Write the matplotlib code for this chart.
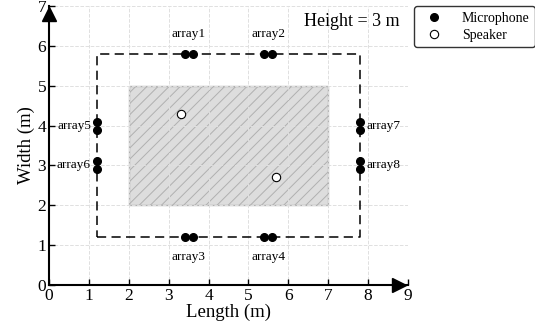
import matplotlib.pyplot as plt
from matplotlib.patches import Rectangle

plt.rcParams['font.family'] = ['Liberation Serif', 'DejaVu Serif']
plt.rcParams['hatch.linewidth'] = 0.7

# microphone arrays: name, x positions, y positions
array_names = ['array1', 'array2', 'array3', 'array4', 'array5', 'array6', 'array7', 'array8']
mic_x = [[3.4, 3.6], [5.4, 5.6], [3.4, 3.6], [5.4, 5.6], [1.2, 1.2], [1.2, 1.2], [7.8, 7.8], [7.8, 7.8]]
mic_y = [[5.8, 5.8], [5.8, 5.8], [1.2, 1.2], [1.2, 1.2], [4.1, 3.9], [3.1, 2.9], [4.1, 3.9], [3.1, 2.9]]
speaker_x = [3.3, 5.7]
speaker_y = [4.3, 2.7]
mic_bounds = [1.2, 1.2, 7.8, 5.8]   # x0, y0, x1, y1
area_bounds = [2, 2, 7, 5]
x_ticks = list(range(0, 10))
y_ticks = list(range(0, 8))

fig = plt.figure(figsize=(5.35, 3.33), dpi=100)
ax = fig.add_axes([0.0916, 0.144, 0.671, 0.838])

# hatched area
ax.add_patch(Rectangle((area_bounds[0], area_bounds[1]), area_bounds[2] - area_bounds[0],
                       area_bounds[3] - area_bounds[1], facecolor='#dddddd',
                       edgecolor='#b0b0b0', hatch='///', lw=1, zorder=1))

# dashed perimeter of microphone positions
x0, y0, x1, y1 = mic_bounds
ax.plot([x0, x1, x1, x0, x0], [y0, y0, y1, y1, y0], 'k--', lw=1.1, dashes=(6, 3.5), zorder=2)

for i, name in enumerate(array_names):
    ax.plot(mic_x[i], mic_y[i], 'ko', ms=5.5, zorder=3,
            label='Microphone' if i == 0 else None)
    cx = sum(mic_x[i]) / 2
    cy = sum(mic_y[i]) / 2
    if i < 2:
        ax.text(cx, cy + 0.5, name, ha='center', va='center', fontsize=9.5)
    elif i < 4:
        ax.text(cx, cy - 0.5, name, ha='center', va='center', fontsize=9.5)
    elif i < 6:
        ax.text(cx - 0.15, cy, name, ha='right', va='center', fontsize=9.5)
    else:
        ax.text(cx + 0.15, cy, name, ha='left', va='center', fontsize=9.5)

ax.plot(speaker_x, speaker_y, 'o', mfc='white', mec='k', ms=6, mew=0.8, ls='', zorder=3, label='Speaker')

ax.text(0.978, 0.975, 'Height = 3 m', transform=ax.transAxes, ha='right', va='top', fontsize=13)

ax.set_xlim(0, 9)
ax.set_ylim(0, 7)
ax.set_xticks(x_ticks)
ax.set_yticks(y_ticks)
ax.tick_params(direction='in', labelsize=12.5, length=4, width=1, pad=2)
ax.grid(True, ls='--', color='#e0e0e0', lw=0.7)
ax.set_axisbelow('line')

for s in ['top', 'right']:
    ax.spines[s].set_visible(False)
for s in ['left', 'bottom']:
    ax.spines[s].set_linewidth(1.5)

# arrow heads on the axes
ax.plot(0.975, 0, '>k', ms=10, transform=ax.transAxes, clip_on=False)
ax.plot(0, 0.97, '^k', ms=10, transform=ax.transAxes, clip_on=False)

ax.set_xlabel('Length (m)', fontsize=13.5, labelpad=0)
ax.set_ylabel('Width (m)', fontsize=13.5, labelpad=2)

leg = ax.legend(loc='upper left', bbox_to_anchor=(1.018, 1.0), borderaxespad=0, fontsize=10,
                frameon=True, edgecolor='k', fancybox=True, handletextpad=1.0,
                borderpad=0.4, labelspacing=0.3)
leg.get_frame().set_linewidth(1)

fig.savefig('out.png', dpi=100)
